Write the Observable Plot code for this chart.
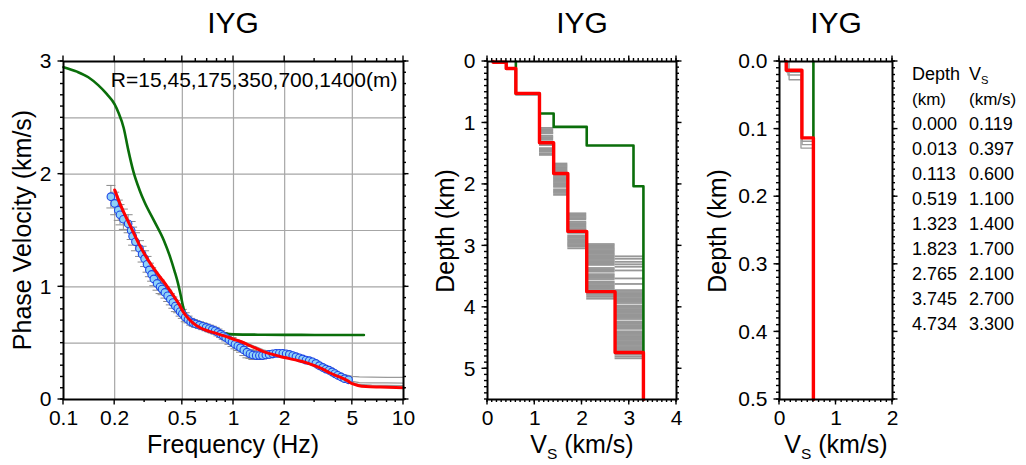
<!DOCTYPE html>
<html><head><meta charset="utf-8">
<script src="https://cdn.jsdelivr.net/npm/d3@7"></script>
<script src="https://cdn.jsdelivr.net/npm/@observablehq/plot@0.6"></script>
<style>
html,body{margin:0;padding:0;background:#fff;}
#chart{position:relative;width:1026px;height:465px;overflow:hidden;background:#fff;}
#chart svg{position:absolute;top:0;}
</style></head><body><div id="chart"></div>
<script>
// ---------------- DATA ----------------
const stationName = "IYG";
const arrayNote = "R=15,45,175,350,700,1400(m)";

// observed phase velocities
const obsFreq = [0.19,0.20,0.21,0.215,0.225,0.24,0.25,0.255,0.265,0.28,0.29,0.30,0.31,0.32,0.33,0.34,0.355,0.37,0.38,0.395,0.41,0.425,0.44,0.455,0.47,0.485,0.50,0.52,0.54,0.56,0.58,0.60,0.63,0.66,0.69,0.72,0.75,0.78,0.81,0.84,0.87,0.90,0.94,0.98,1.02,1.06,1.10,1.15,1.20,1.25,1.30,1.36,1.42,1.48,1.55,1.62,1.70,1.78,1.86,1.95,2.04,2.13,2.23,2.33,2.44,2.55,2.67,2.79,2.92,3.05,3.20,3.35,3.50,3.65,3.80,3.95,4.10,4.30,4.50,4.75];
const obsVel = [1.80,1.74,1.68,1.64,1.60,1.56,1.50,1.45,1.40,1.34,1.29,1.25,1.20,1.15,1.11,1.07,1.03,1.00,0.98,0.95,0.92,0.89,0.86,0.83,0.81,0.78,0.76,0.73,0.71,0.69,0.68,0.67,0.66,0.65,0.64,0.63,0.62,0.61,0.595,0.58,0.565,0.55,0.53,0.51,0.49,0.475,0.46,0.44,0.42,0.405,0.395,0.39,0.39,0.39,0.395,0.40,0.405,0.41,0.41,0.41,0.405,0.40,0.39,0.38,0.37,0.36,0.35,0.345,0.335,0.32,0.30,0.285,0.27,0.26,0.245,0.23,0.215,0.20,0.185,0.175];
const obsErr = [0.10,0.10,0.09,0.09,0.09,0.08,0.08,0.08,0.08,0.07,0.07,0.07,0.07,0.06,0.06,0.06,0.06,0.06,0.05,0.05,0.05,0.05,0.05,0.05,0.04,0.04,0.04,0.04,0.03,0.03,0.03,0.03,0.03,0.03,0.03,0.03,0.03,0.03,0.03,0.03,0.03,0.03,0.04,0.04,0.04,0.04,0.04,0.05,0.05,0.04,0.04,0.03,0.03,0.03,0.03,0.03,0.02,0.02,0.02,0.02,0.02,0.02,0.02,0.02,0.02,0.02,0.02,0.02,0.02,0.02,0.02,0.02,0.02,0.02,0.02,0.02,0.02,0.02,0.02,0.02];

// final model dispersion (red)
const redFreq = [0.20,0.216,0.24,0.26,0.28,0.30,0.33,0.36,0.40,0.44,0.48,0.51,0.55,0.60,0.65,0.72,0.80,0.90,1.0,1.1,1.2,1.35,1.5,1.7,1.9,2.1,2.4,2.7,3.0,3.4,3.7,4.2,4.7,5.0,5.4,6.0,7.3,10];
const redVel  = [1.86,1.73,1.58,1.47,1.37,1.29,1.19,1.11,1.02,0.93,0.84,0.77,0.71,0.66,0.63,0.605,0.585,0.56,0.535,0.515,0.49,0.455,0.425,0.40,0.38,0.365,0.345,0.325,0.30,0.265,0.235,0.20,0.165,0.14,0.125,0.115,0.11,0.105];

// initial model dispersion (green)
const greenFreq = [0.10,0.12,0.14,0.16,0.18,0.20,0.21,0.226,0.24,0.258,0.28,0.30,0.34,0.39,0.425,0.45,0.47,0.49,0.51,0.53,0.58,0.64,0.72,0.80,0.90,1.0,1.5,2.0,3.0,4.0,5.85];
const greenVel  = [2.95,2.91,2.86,2.79,2.71,2.62,2.55,2.41,2.22,2.02,1.86,1.75,1.59,1.41,1.26,1.14,1.04,0.92,0.80,0.74,0.69,0.66,0.63,0.61,0.585,0.578,0.575,0.574,0.573,0.573,0.572];

// ensemble dispersion curves (gray)
const grayBandFreq = [0.205,0.22,0.24,0.26,0.28,0.30,0.33,0.36,0.40,0.44,0.48,0.52,0.56,0.62];
const grayBandLo   = [1.76,1.64,1.50,1.40,1.31,1.23,1.13,1.05,0.97,0.89,0.81,0.74,0.69,0.64];
const grayBandHi   = [1.86,1.74,1.60,1.49,1.39,1.30,1.20,1.12,1.03,0.95,0.87,0.79,0.72,0.66];
const grayFreq  = [0.62,0.70,0.80,0.90,1.0,1.2,1.5,2.0,2.5,3.0,3.5,4.0,4.5,5.0,5.5,6.5,8.0,10];
const grayVelA  = [0.66,0.62,0.59,0.565,0.545,0.50,0.44,0.39,0.35,0.31,0.27,0.245,0.22,0.205,0.20,0.198,0.197,0.196];
const grayVelB  = [0.64,0.60,0.575,0.555,0.53,0.485,0.43,0.375,0.34,0.30,0.26,0.225,0.19,0.16,0.15,0.148,0.147,0.146];
const grayVelC  = [0.645,0.61,0.58,0.56,0.535,0.49,0.435,0.38,0.345,0.305,0.265,0.23,0.19,0.15,0.133,0.127,0.125,0.124];

// final model (table + red profile)
const layerTop = [0.000,0.013,0.113,0.519,1.323,1.823,2.765,3.745,4.734];
const layerVs  = [0.119,0.397,0.600,1.100,1.400,1.700,2.100,2.700,3.300];
// initial model (green profile)
const initTop = [0.0,0.52,0.846,1.064,1.367,2.03];
const initVs  = [0.6,1.1,1.4,2.1,3.09,3.3];
// ensemble models: interface depths (gray)
const grayIf_06_11 = [0.545];
const grayIf_11_14 = [1.08,1.10,1.12,1.14,1.16,1.17,1.21,1.23,1.25,1.27,1.30,1.32,1.34,1.36,1.41,1.43,1.45,1.47,1.50,1.52];
const grayIf_14_17 = [1.66,1.68,1.70,1.72,1.74,1.76,1.78,1.80,1.82,1.84,1.86,1.88,1.90,1.92,1.94,1.96,1.98,2.00,2.02,2.04,2.08,2.10,2.12,2.14,2.17];
const grayIf_17_21 = [2.47,2.49,2.51,2.53,2.55,2.57,2.61,2.63,2.65,2.67,2.69,2.71,2.73,2.75,2.77,2.79,2.83,2.85,2.87,2.89,2.91,2.93,2.95,2.97,2.99,3.01,3.04];
const grayIf_21_27 = [2.97,2.99,3.01,3.03,3.05,3.07,3.09,3.11,3.13,3.15,3.17,3.19,3.21,3.23,3.25,3.27,3.29,3.31,3.36,3.38,3.40,3.42,3.46,3.48,3.50,3.52,3.54,3.58,3.60,3.62,3.64,3.66,3.68,3.70,3.72,3.74,3.76,3.78,3.80,3.83,3.86];
const grayIf_27_33 = [3.17,3.21,3.26,3.30,3.34,3.40,3.53,3.62,3.72,3.75,3.77,3.79,3.81,3.83,3.85,3.87,3.89,3.91,3.93,3.97,3.99,4.01,4.03,4.05,4.07,4.09,4.11,4.13,4.15,4.17,4.19,4.23,4.25,4.27,4.29,4.31,4.33,4.35,4.39,4.41,4.43,4.45,4.47,4.49,4.51,4.53,4.55,4.57,4.59,4.61,4.63,4.65,4.67,4.69,4.71,4.73,4.75,4.77,4.80,4.83];
// shallow ensemble models (drawn to shallowBottom, where they join the red profile)
const shallowTopA = [0.0,0.027,0.118], shallowVsA = [0.17,0.40,0.60];
const shallowTopB = [0.0,0.016,0.123], shallowVsB = [0.13,0.40,0.60];
const shallowTopC = [0.0,0.020,0.128], shallowVsC = [0.15,0.38,0.60];
const shallowBottom = 0.3;

// ticks
const freqLabels = [0.1,0.2,0.5,1,2,5,10];
const freqMinor = [0.3,0.4,0.6,0.7,0.8,0.9,3,4,6,7,8,9];
const freqGrid = [0.2,0.5,1,2,5];
const velLabels = [0,1,2,3];
const velGrid = [0.5,1,1.5,2,2.5];

// ---------------- HELPERS ----------------
const FONT = '"Liberation Sans", Arial, Helvetica, sans-serif';
const RED = "#ff0000", GREEN = "#0a6e0a", GRAY = "#9a9a9a";
const chart = document.getElementById("chart");
const zip = (xs, ys) => xs.map((x, i) => ({x, y: ys[i]}));
const range = (a, b, s) => d3.range(Math.round((b - a) / s) + 1).map(i => +(a + i * s).toFixed(4));

function stepPath(tops, vs, bottom) {
  const pts = [];
  for (let i = 0; i < tops.length; i++) {
    if (tops[i] >= bottom) break;
    const next = Math.min(i + 1 < tops.length ? tops[i + 1] : bottom, bottom);
    pts.push({x: vs[i], y: tops[i]}, {x: vs[i], y: next});
  }
  return pts;
}
function rules(depths, v1, v2) { return depths.map(d => ({y: d, x1: v1, x2: v2})); }

const hbar = {draw(ctx, size) { const w = Math.sqrt(size / Math.PI); ctx.moveTo(-w, 0); ctx.lineTo(w, 0); }};

function frameAxes(xMajor, yMajor, xFmt, yFmt) {
  return [
    Plot.axisX({ticks: xMajor, anchor: "bottom", tickSize: 0, tickPadding: 11, tickFormat: xFmt, label: null}),
    Plot.axisY({ticks: yMajor, anchor: "left", tickSize: 0, tickPadding: 12, tickFormat: yFmt, label: null}),
    Plot.frame({stroke: "black", strokeWidth: 2})
  ];
}

// overlay SVG (on top of all panels) for the GMT-style outward ticks
const overlay = d3.select(chart).append("svg")
  .attr("width", 1026).attr("height", 465)
  .style("left", "0px").style("z-index", 5).style("pointer-events", "none").style("overflow", "visible");
function outerTicks(svg, left, xMajor, xMinor, yMajor, yMinor) {
  const sx = svg.scale("x"), sy = svg.scale("y");
  const [x0, x1] = d3.extent(sx.range).map(v => v + left), [y0, y1] = d3.extent(sy.range);
  const M = 5.5, m = 3, w = 1.4;
  const g = overlay.append("g").attr("fill", "#000");
  const tx = (vals, L) => vals.forEach(v => {
    const X = sx.apply(v) + left - w / 2;
    g.append("rect").attr("x", X).attr("y", y0 - L).attr("width", w).attr("height", L);
    g.append("rect").attr("x", X).attr("y", y1).attr("width", w).attr("height", L);
  });
  const ty = (vals, L) => vals.forEach(v => {
    const Y = sy.apply(v) - w / 2;
    g.append("rect").attr("x", x0 - L).attr("y", Y).attr("width", L).attr("height", w);
    g.append("rect").attr("x", x1).attr("y", Y).attr("width", L).attr("height", w);
  });
  tx(xMajor, M); tx(xMinor, m); ty(yMajor, M); ty(yMinor, m);
}

function addText(svg, x, y, parts, {size = 25, anchor = "middle", rotate = 0} = {}) {
  const t = d3.select(svg).append("text")
    .attr("transform", `translate(${x},${y}) rotate(${rotate})`)
    .attr("text-anchor", anchor).attr("dominant-baseline", "middle")
    .attr("font-family", FONT).attr("font-size", size).attr("fill", "black");
  (Array.isArray(parts) ? parts : [parts]).forEach(p => {
    if (typeof p === "string") t.append("tspan").text(p);
    else t.append("tspan").attr("font-size", size * 0.62).attr("baseline-shift", "sub").text(p.sub);
  });
  return t;
}
function place(svg, left) { svg.style.left = left + "px"; chart.insertBefore(svg, overlay.node()); return svg; }
const baseStyle = {fontFamily: FONT, fontSize: "21px", background: "transparent", overflow: "visible", color: "black"};

// ---------------- PANEL 1: dispersion ----------------
const obs = obsFreq.map((f, i) => ({f, v: obsVel[i], e: obsErr[i]}));
const band = grayBandFreq.map((f, i) => ({f, lo: grayBandLo[i], hi: grayBandHi[i]}));
const p1 = Plot.plot({
  width: 420, height: 465, marginLeft: 63, marginRight: 17, marginTop: 61, marginBottom: 66,
  style: baseStyle,
  x: {type: "log", domain: [0.1, 10], label: null},
  y: {domain: [0, 3], label: null},
  marks: [
    Plot.ruleX(freqGrid, {stroke: "#a6a6a6", strokeWidth: 1.2}),
    Plot.ruleY(velGrid, {stroke: "#a6a6a6", strokeWidth: 1.2}),
    Plot.areaY(band, {x: "f", y1: "lo", y2: "hi", fill: "#8e8e8e", curve: "monotone-x"}),
    Plot.line(zip(grayFreq, grayVelA), {x: "x", y: "y", stroke: GRAY, strokeWidth: 1.3}),
    Plot.line(zip(grayFreq, grayVelB), {x: "x", y: "y", stroke: GRAY, strokeWidth: 1.3}),
    Plot.line(zip(grayFreq, grayVelC), {x: "x", y: "y", stroke: GRAY, strokeWidth: 1.3}),
    Plot.ruleX(obs, {x: "f", y1: d => d.v - d.e, y2: d => d.v + d.e, stroke: "#8a8a8a", strokeWidth: 1}),
    Plot.dot(obs, {x: "f", y: d => d.v + d.e, symbol: hbar, r: 4.5, stroke: "#8a8a8a", fill: "none", strokeWidth: 1}),
    Plot.dot(obs, {x: "f", y: d => d.v - d.e, symbol: hbar, r: 4.5, stroke: "#8a8a8a", fill: "none", strokeWidth: 1}),
    Plot.line(zip(greenFreq, greenVel), {x: "x", y: "y", stroke: GREEN, strokeWidth: 2.6, curve: "monotone-x"}),
    Plot.dot(obs, {x: "f", y: "v", r: 3.8, fill: "#8fd2f8", stroke: "#1e46e6", strokeWidth: 1.1}),
    Plot.line(zip(redFreq, redVel), {x: "x", y: "y", stroke: RED, strokeWidth: 3, curve: "monotone-x"}),
    Plot.text([arrayNote], {frameAnchor: "top-right", dx: -6, dy: 19, lineAnchor: "middle", textAnchor: "end", fontSize: 21, fill: "black"}),
    ...frameAxes(freqLabels, velLabels, d => String(d), d => String(d))
  ]
});
place(p1, 0);
outerTicks(p1, 0, freqLabels, freqMinor, velLabels, range(0, 3, 0.1));
addText(p1, 233, 25, stationName, {size: 30});
addText(p1, 24, 230, "Phase Velocity (km/s)", {size: 25, rotate: -90});
addText(p1, 233, 446, "Frequency (Hz)", {size: 25});

// ---------------- PANEL 2: deep profile ----------------
const grayDeep = [
  ...rules(grayIf_06_11, 0.6, 1.1), ...rules(grayIf_11_14, 1.1, 1.4), ...rules(grayIf_14_17, 1.4, 1.7),
  ...rules(grayIf_17_21, 1.7, 2.1), ...rules(grayIf_21_27, 2.1, 2.7), ...rules(grayIf_27_33, 2.7, 3.3)
];
function profileMarks(bottom, withDeepGray) {
  const sb = Math.min(bottom, shallowBottom);
  return [
    ...(withDeepGray ? [Plot.ruleY(grayDeep, {y: "y", x1: "x1", x2: "x2", stroke: "#979797", strokeWidth: 1.8})] : []),
    Plot.line(stepPath(shallowTopA, shallowVsA, sb), {x: "x", y: "y", stroke: GRAY, strokeWidth: 1.3}),
    Plot.line(stepPath(shallowTopB, shallowVsB, sb), {x: "x", y: "y", stroke: GRAY, strokeWidth: 1.3}),
    Plot.line(stepPath(shallowTopC, shallowVsC, sb), {x: "x", y: "y", stroke: GRAY, strokeWidth: 1.3}),
    Plot.line(stepPath(initTop, initVs, bottom), {x: "x", y: "y", stroke: GREEN, strokeWidth: 2.6}),
    Plot.line(stepPath(layerTop, layerVs, bottom), {x: "x", y: "y", stroke: RED, strokeWidth: 3.4})
  ];
}
const p2 = Plot.plot({
  width: 280, height: 465, marginLeft: 67, marginRight: 24, marginTop: 61, marginBottom: 66,
  style: baseStyle,
  x: {domain: [0, 4], label: null},
  y: {domain: [0, 5.5], reverse: true, label: null},
  marks: [
    ...profileMarks(5.5, true),
    ...frameAxes([0,1,2,3,4], [0,1,2,3,4,5], d => String(d), d => String(d))
  ]
});
place(p2, 420);
outerTicks(p2, 420, [0,1,2,3,4], range(0, 4, 0.1), [0,1,2,3,4,5], range(0, 5.5, 0.1));
addText(p2, 162, 25, stationName, {size: 30});
addText(p2, 27, 231, "Depth (km)", {size: 25, rotate: -90});
addText(p2, 162, 446, ["V", {sub: "S"}, " (km/s)"], {size: 25});

// ---------------- PANEL 3: shallow profile + table ----------------
const p3 = Plot.plot({
  width: 336, height: 465, marginLeft: 89, marginRight: 134, marginTop: 61, marginBottom: 66,
  style: baseStyle,
  x: {domain: [0, 2], label: null},
  y: {domain: [0, 0.5], reverse: true, label: null},
  marks: [
    ...profileMarks(0.5, false),
    ...frameAxes([0,1,2], [0,0.1,0.2,0.3,0.4,0.5], d => String(d), d3.format(".1f"))
  ]
});
place(p3, 690);
outerTicks(p3, 690, [0,1,2], range(0, 2, 0.1), [0,0.1,0.2,0.3,0.4,0.5], range(0, 0.5, 0.01));
addText(p3, 146, 25, stationName, {size: 30});
addText(p3, 29, 231, "Depth (km)", {size: 25, rotate: -90});
addText(p3, 146, 446, ["V", {sub: "S"}, " (km/s)"], {size: 25});
// table of final model
const colD = 222, colV = 279;
addText(p3, colD, 75, "Depth", {size: 18, anchor: "start"});
addText(p3, colV, 75, ["V", {sub: "S"}], {size: 18, anchor: "start"});
addText(p3, colD, 101, "(km)", {size: 17, anchor: "start"});
addText(p3, colV, 101, "(km/s)", {size: 17, anchor: "start"});
layerTop.forEach((d, i) => {
  addText(p3, colD, 125 + i * 25, d.toFixed(3), {size: 18, anchor: "start"});
  addText(p3, colV, 125 + i * 25, layerVs[i].toFixed(3), {size: 18, anchor: "start"});
});
</script></body></html>
